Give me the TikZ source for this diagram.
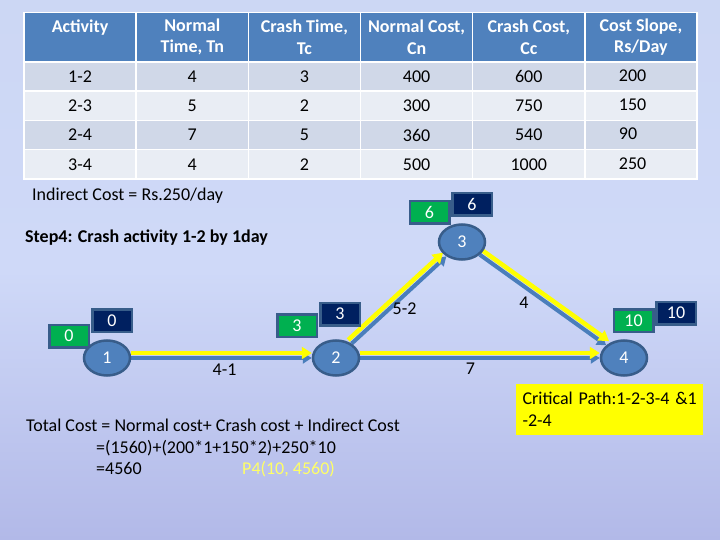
\documentclass[tikz,border=0pt]{standalone}
\usepackage{fontspec}
\setmainfont{Carlito}
\usetikzlibrary{shapes.geometric,arrows.meta}
\definecolor{bgA}{HTML}{8387C3}
\definecolor{bgB}{HTML}{B2B9E8}
\definecolor{bgC}{HTML}{CFD9F8}
\definecolor{bgD}{HTML}{CBD6F2}
\definecolor{bgE}{HTML}{A6B5AA}
\definecolor{bgF}{HTML}{92A58C}
\definecolor{hdr}{HTML}{4F81BD}
\definecolor{rowD}{HTML}{D0D8E8}
\definecolor{rowL}{HTML}{E9EDF4}
\definecolor{nodeblue}{HTML}{4F81BD}
\definecolor{nodeedge}{HTML}{385D8A}
\definecolor{arrowblue}{HTML}{4A7EBB}
\definecolor{boxgreen}{HTML}{00B050}
\definecolor{boxnavy}{HTML}{002060}
\definecolor{hiyellow}{HTML}{FFFF00}
\definecolor{ptyellow}{HTML}{FFFF66}
\pgfdeclareverticalshading{slidebg}{100bp}{color(0bp)=(bgA); color(25bp)=(bgB); color(50bp)=(bgC); color(85bp)=(bgD); color(93bp)=(bgE); color(100bp)=(bgF)}
\pgfdeclarelayer{bglayer}
\pgfdeclarelayer{edgelayer}
\pgfsetlayers{bglayer,edgelayer,main}
\begin{document}
\begin{tikzpicture}[x=1pt,y=-1pt,
  every node/.style={font=\fontsize{18}{21.6}\selectfont, inner sep=0pt},
  hdrcell/.style={rectangle, fill=hdr, draw=white, line width=1.5pt, minimum width=112.2pt, minimum height=49pt, text=white, font=\fontsize{18}{21.6}\selectfont\bfseries, align=center},
  cell/.style={rectangle, draw=white, line width=1.5pt, minimum width=112.2pt, minimum height=29.25pt, text=black},
  evt/.style={ellipse, fill=nodeblue, draw=nodeedge, line width=2.5pt, minimum width=46pt, minimum height=35pt, text=white},
  gbox/.style={rectangle, fill=boxgreen, draw=nodeedge, line width=2.5pt, minimum width=39.5pt, minimum height=22.5pt, text=white},
  nbox/.style={rectangle, fill=boxnavy, draw=nodeedge, line width=2.5pt, minimum width=39.5pt, minimum height=22.5pt, text=white},
  barrow/.style={draw=arrowblue, line width=4pt, -{Triangle[length=9pt,width=11pt]}},
  yarrow/.style={draw=hiyellow, line width=4.5pt, -{Triangle[length=10pt,width=12pt]}},
  lbl/.style={anchor=base, text=black}
]
\begin{pgfonlayer}{bglayer}
\path[shading=slidebg] (0,0) rectangle (720,540);
\end{pgfonlayer}
\useasboundingbox (0,0) rectangle (720,540);

% table header
\node[hdrcell] (h1) at (80.1,37) {Activity\\~};
\node[hdrcell] (h2) at (192.3,37) {Normal\\Time, Tn};
\node[hdrcell] (h3) at (304.4,37) {Crash Time,\\Tc};
\node[hdrcell] (h4) at (416.6,37) {Normal Cost,\\Cn};
\node[hdrcell] (h5) at (528.8,37) {Crash Cost,\\Cc};
\node[hdrcell] (h6) at (640.9,37) {Cost Slope,\\Rs/Day};

% table body
\foreach \r/\y/\fc/\a/\b/\c/\d/\e/\f in {
  1/76.6/rowD/1-2/4/3/400/600/200,
  2/105.8/rowL/2-3/5/2/300/750/150,
  3/135.0/rowD/2-4/7/5/360/540/90,
  4/164.3/rowL/3-4/4/2/500/1000/250}{
  \node[cell, fill=\fc] (a\r) at (80.1,\y) {\a};
  \node[cell, fill=\fc] (b\r) at (192.3,\y) {\b};
  \node[cell, fill=\fc] (c\r) at (304.4,\y) {\c};
  \node[cell, fill=\fc] (d\r) at (416.6,\y) {\d};
  \node[cell, fill=\fc] (e\r) at (528.8,\y) {\e};
  \node[cell, fill=\fc, text width=44pt, align=left] (f\r) at (640.9,\y) {\raisebox{2pt}{\f}};
}

% texts
\node[anchor=base west] (indirect) at (32,201) {Indirect Cost = Rs.250/day};
\node[anchor=base west, font=\fontsize{18}{21.6}\selectfont\bfseries] (step) at (25,243) {Step4: Crash activity 1-2 by 1day};

% boxes
\node[gbox] (g1) at (69,336) {0};
\node[nbox] (k1) at (112,320.5) {0};
\node[gbox] (g2) at (297,325.5) {3};
\node[nbox] (k2) at (340,314) {3};
\node[gbox] (g3) at (429.5,212.5) {6};
\node[nbox] (k3) at (472,204.5) {6};
\node[gbox] (g4) at (633.5,320.5) {10};
\node[nbox] (k4) at (676,313) {10};

% events
\node[evt] (n1) at (107,358) {1};
\node[evt] (n2) at (336,358) {2};
\node[evt] (n3) at (462,242) {3};
\node[evt] (n4) at (624,358) {4};

% arrows
\begin{pgfonlayer}{edgelayer}
\draw[barrow] (n1) -- (n2);
\draw[barrow] (n2) -- (n3);
\draw[barrow] (n3) -- (n4);
\draw[barrow] (n2) -- (n4);
\draw[yarrow, transform canvas={yshift=5pt}] (n1) -- (n2);
\draw[yarrow, transform canvas={xshift=-3.4pt,yshift=3.7pt}] (n2) -- (n3);
\draw[yarrow, transform canvas={xshift=2.9pt,yshift=4.1pt}] (n3) -- (n4);
\draw[yarrow, transform canvas={yshift=5pt}] (n2) -- (n4);
\end{pgfonlayer}

% arrow labels
\node[lbl] (l12) at (224.5,375) {4-1};
\node[lbl] (l23) at (404.5,314) {5-2};
\node[lbl] (l34) at (524,308) {4};
\node[lbl] (l24) at (470.5,374) {7};

% critical path box
\node[rectangle, fill=hiyellow, minimum width=187pt, minimum height=51pt, text width=174pt, inner xsep=6.5pt, align=left, text=black] (crit) at (609.5,409.5) {\mbox{Critical Path:1-2-3-4 \&1}\\-2-4};

% total cost
\node[anchor=base west] (tc1) at (26,431) {Total Cost = Normal cost+ Crash cost + Indirect Cost};
\node[anchor=base west] (tc2) at (96,453) {=(1560)+(200*1+150*2)+250*10};
\node[anchor=base west] (tc3) at (96,474) {=4560};
\node[anchor=base west, text=ptyellow] (p4) at (242,474) {P4(10, 4560)};
\end{tikzpicture}
\end{document}
